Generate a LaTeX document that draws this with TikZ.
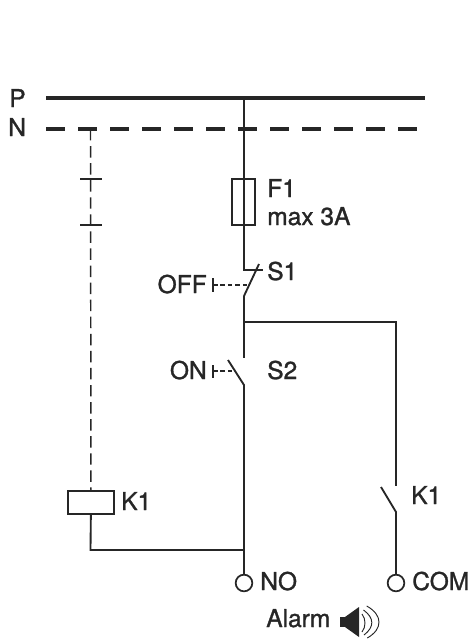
\documentclass[tikz,border=0pt]{standalone}
\usepackage{fontspec}
\setmainfont[FakeBold=1.2]{TeX Gyre Heros}
\tikzset{
  wire/.style={line width=1.4pt},
  phase/.style={line width=2.5pt},
  neutral/.style={line width=2.5pt,dash pattern=on 14.4pt off 9.6pt},
  pilot/.style={line width=1.1pt,dash pattern=on 8.6pt off 4.2pt},
  link/.style={line width=0.9pt,dash pattern=on 3.4pt off 2.2pt},
  label/.style={inner sep=0pt,font=\fontsize{18.4}{20}\selectfont},
  terminal/.style={circle,draw,line width=1.3pt,fill=white,minimum size=12.5pt,inner sep=0pt},
  boxed/.style={rectangle,draw,line width=1.2pt,inner sep=0pt},
}
\begin{document}
\begin{tikzpicture}[x=0.75pt,y=-0.75pt,color={black!85}]
  \useasboundingbox (0,0) rectangle (468,640);
  \draw
    (46,98) coordinate (pl)
    (425,98) coordinate (pr)
    (46,129) coordinate (nl)
    (425,129) coordinate (nr)
    (244,98) coordinate (top)
    (90.5,129) coordinate (ntap)
    (80,179) coordinate (ta)
    (102,179) coordinate (tb)
    (80,225) coordinate (tc)
    (102,225) coordinate (td)
    (244,270) coordinate (sa)
    (263,270) coordinate (sb)
    (244,296) coordinate (sc)
    (259,264) coordinate (sd)
    (244,322) coordinate (branch)
    (396,322) coordinate (bend)
    (244,358) coordinate (se)
    (228,360) coordinate (sf)
    (244,385) coordinate (sg)
    (244,550) coordinate (join)
    (90.5,550) coordinate (corner)
    (396,486) coordinate (ka)
    (381,487) coordinate (kb)
    (396,512) coordinate (kc)
    (213,285) coordinate (offa)
    (248,285) coordinate (offb)
    (213,278) coordinate (offc)
    (213,292) coordinate (offd)
    (213,371) coordinate (ona)
    (232,371) coordinate (onb)
    (213,365) coordinate (onc)
    (213,378) coordinate (ond);
  \node[boxed,minimum width=17.25pt,minimum height=34.5pt] (F1) at (243.5,202) {};
  \node[boxed,minimum width=34.5pt,minimum height=17.25pt] (K1) at (91,502.5) {};
  \node[terminal] (NO) at (244,583) {};
  \node[terminal] (COM) at (396,583) {};
  \node[label,anchor=base west] (lP) at (9,107) {P};
  \node[label,anchor=base west] (lN) at (8,136) {N};
  \node[label,anchor=base west] (lF) at (267,197) {F1};
  \node[label,anchor=base west] (lmax) at (267,225) {max 3A};
  \node[label,anchor=base west] (lS1) at (267,280) {S1};
  \node[label,anchor=base east] (lOFF) at (207,293) {OFF};
  \node[label,anchor=base east] (lON) at (207,379) {ON};
  \node[label,anchor=base west] (lS2) at (267,379) {S2};
  \node[label,anchor=base west] (lK) at (121,510) {K1};
  \node[label,anchor=base west] (lK2) at (411,504) {K1};
  \node[label,anchor=base west] (lNO) at (260,590) {NO};
  \node[label,anchor=base west] (lCOM) at (412,590) {COM};
  \node[label,anchor=base west] (lA) at (266,627) {Alarm};
  \draw[phase] (pl) to (pr);
  \draw[neutral] (nl) to (nr);
  \begin{scope}[wire]
    \draw (top) to (sa) to (sb);
    \draw (sc) to (sd);
    \draw (sc) to (se);
    \draw (branch) to (bend) to (ka);
    \draw (kb) to (kc) to (COM);
    \draw (sf) to (sg) to (NO);
    \draw (K1) to (corner) to (join);
    \draw (ta) to (tb);
    \draw (tc) to (td);
    \draw (offc) to (offd);
    \draw (onc) to (ond);
  \end{scope}
  \draw[pilot] (ntap) to (K1);
  \draw[link] (offa) to (offb);
  \draw[link] (ona) to (onb);
  % speaker
  \fill (340,617) rectangle (345,627);
  \fill (345,617) -- (359,607) -- (359,637) -- (345,627) -- cycle;
  \draw[line width=0.7pt] (362,614) .. controls (366,619) and (366,627) .. (362,632);
  \draw[line width=0.7pt] (363.5,610) .. controls (374.5,618) and (374.5,627) .. (364,635);
  \draw[line width=0.7pt] (366.7,606) .. controls (383,615) and (383,629) .. (367.3,638);
\end{tikzpicture}
\end{document}
